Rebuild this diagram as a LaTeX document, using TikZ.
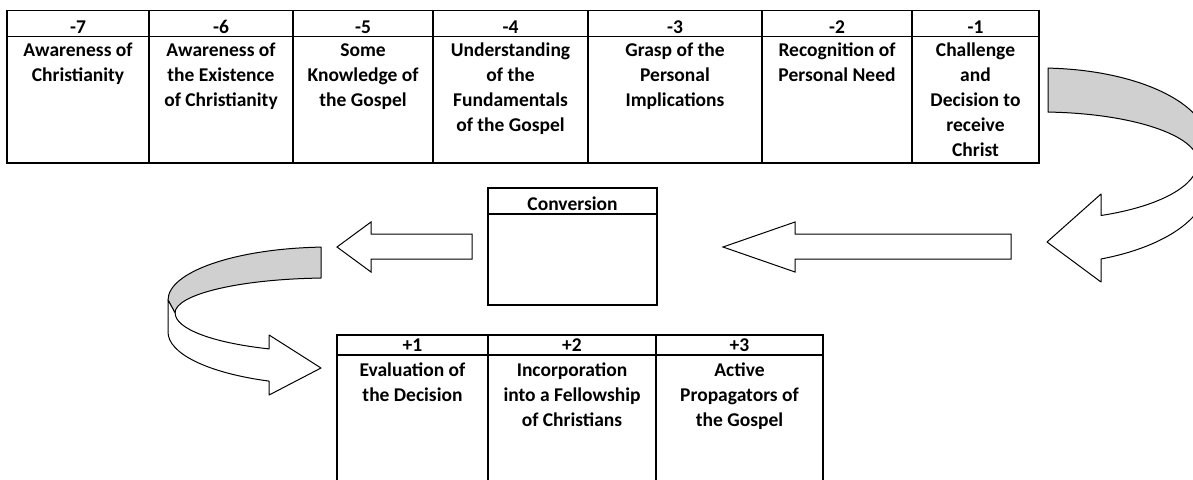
\documentclass[tikz,border=0pt]{standalone}
\usepackage{fontspec}
\setmainfont{Carlito}
\definecolor{bandgray}{RGB}{208,208,208}
\begin{document}
\begin{tikzpicture}[x=1pt,y=-1pt,
  font=\bfseries\fontsize{19.5}{25}\selectfont,
  grid/.style={line width=1.3pt,black},
  hdr/.style={anchor=base,inner sep=0pt},
  cell/.style={anchor=north,align=center,inner sep=0pt},
  blockarrow/.style={draw=black,line width=1pt,fill=white,line join=miter},
  band/.style={draw=black,line width=1pt,fill=bandgray,line join=round},
  front/.style={draw=black,line width=1pt,fill=white,line join=round}]
\useasboundingbox (0,0) rectangle (1193,479);
\clip (0,0) rectangle (1193,479);
% ---------- top table ----------
\draw[grid] (7,10.5) rectangle (1039,163);
\draw[grid] (7,36.7) -- (1039,36.7);
\foreach \x in {149,293,433,588,762,912} \draw[grid] (\x,10.5) -- (\x,163);
\node[hdr] (h7) at (78,33.3) {-7};
\node[hdr] (h6) at (221,33.3) {-6};
\node[hdr] (h5) at (363,33.3) {-5};
\node[hdr] (h4) at (510.5,33.3) {-4};
\node[hdr] (h3) at (675,33.3) {-3};
\node[hdr] (h2) at (837,33.3) {-2};
\node[hdr] (h1) at (975.5,33.3) {-1};
\node[cell] (c7) at (78,39.2) {\strut Awareness of\\Christianity};
\node[cell] (c6) at (221,39.2) {\strut Awareness of\\the Existence\\of Christianity};
\node[cell] (c5) at (363,39.2) {\strut Some\\Knowledge of\\the Gospel};
\node[cell] (c4) at (510.5,39.2) {\strut Understanding\\of the\\Fundamentals\\of the Gospel};
\node[cell] (c3) at (675,39.2) {\strut Grasp of the\\Personal\\Implications};
\node[cell] (c2) at (837,39.2) {\strut Recognition of\\Personal Need};
\node[cell] (c1) at (975.5,39.2) {\strut Challenge\\and\\Decision to\\receive\\Christ};
% ---------- conversion box ----------
\draw[grid] (488,188) rectangle (657,305);
\draw[grid] (488,214) -- (657,214);
\node[hdr] (conv) at (572.5,210) {Conversion};
% ---------- bottom table ----------
\draw[grid] (337,482) -- (337,335) -- (823,335) -- (823,482);
\draw[grid] (337,355) -- (823,355);
\foreach \x in {488,656} \draw[grid] (\x,335) -- (\x,482);
\node[hdr] (p1) at (412.5,351.7) {+1};
\node[hdr] (p2) at (572,351.7) {+2};
\node[hdr] (p3) at (739.5,351.7) {+3};
\node[cell] (d1) at (412.5,359.2) {\strut Evaluation of\\the Decision};
\node[cell] (d2) at (572,359.2) {\strut Incorporation\\into a Fellowship\\of Christians};
\node[cell] (d3) at (739.5,359.2) {\strut Active\\Propagators of\\the Gospel};
% ---------- straight block arrows ----------
\draw[blockarrow] (472,234) -- (371,234) -- (371,222) -- (337,247) -- (371,272) -- (371,259) -- (472,259) -- cycle;
\draw[blockarrow] (1011,234) -- (795,234) -- (795,222) -- (723,247) -- (795,272) -- (795,259) -- (1011,259) -- cycle;
% ---------- right curved arrow ----------
\draw[band] (1048,68.1) arc[start angle=-87.27,end angle=0,x radius=168,y radius=76]
  -- (1198,162) arc[start angle=0,end angle=-87.1,x radius=158,y radius=50] -- cycle;
\draw[front] (1208,144) -- (1208,183.5) arc[start angle=0,end angle=68.71,x radius=168,y radius=81]
  -- (1101,282) -- (1047,242) -- (1101,194) -- (1101,215.5)
  arc[start angle=67.29,end angle=0,x radius=158,y radius=58] -- cycle;
% ---------- left curved arrow ----------
\draw[band] (321,247.1) arc[start angle=-93.2,end angle=-180,x radius=162,y radius=53]
  -- (175,313) arc[start angle=180,end angle=266.7,x radius=155,y radius=35] -- cycle;
\draw[front] (168,300) -- (168,332) arc[start angle=180,end angle=112.1,x radius=162,y radius=53]
  -- (269.1,395) -- (321,368) -- (269.1,335) -- (269.1,348.9)
  arc[start angle=113.2,end angle=180,x radius=155,y radius=39] -- cycle;
\end{tikzpicture}
\end{document}
